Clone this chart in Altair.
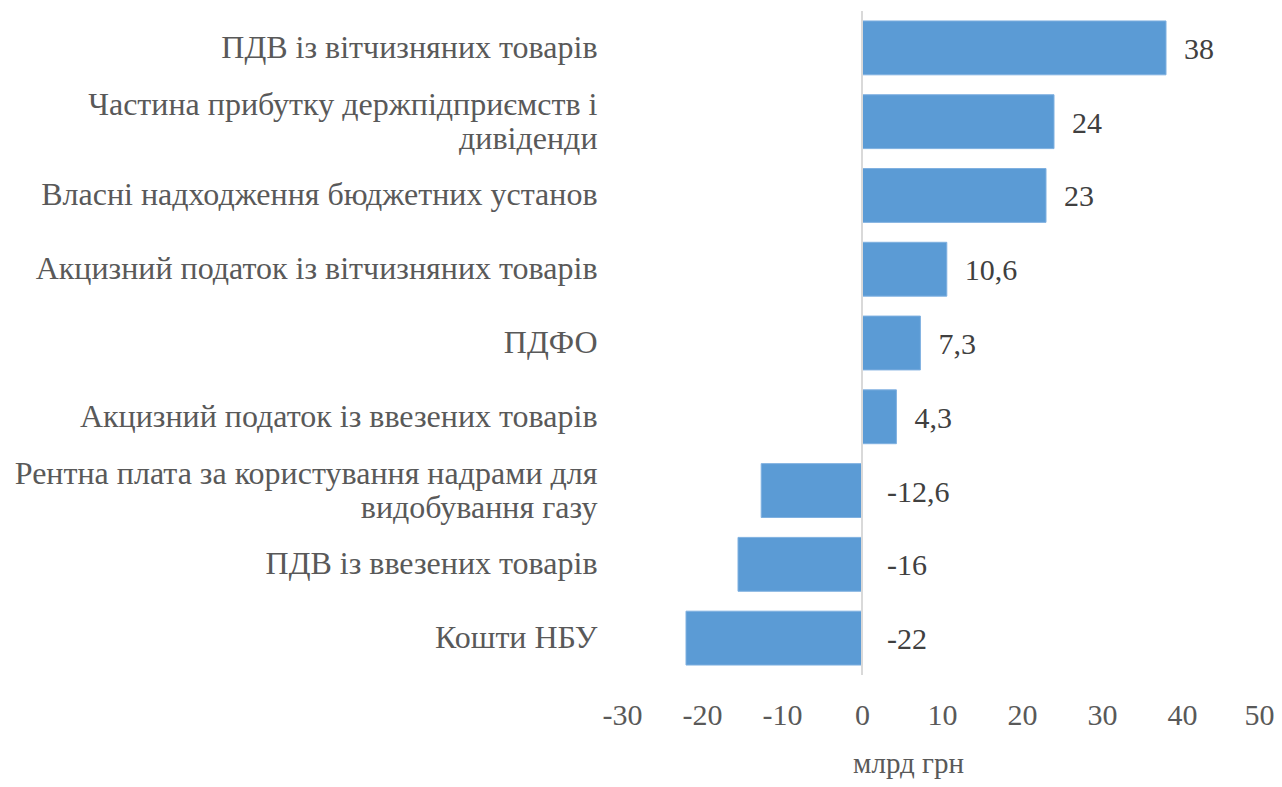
import altair as alt
import pandas as pd

categories = [
    "ПДВ із вітчизняних товарів ",
    "Частина прибутку держпідприємств і\nдивіденди",
    "Власні надходження бюджетних установ",
    "Акцизний податок із вітчизняних товарів",
    "ПДФО",
    "Акцизний податок із ввезених товарів",
    "Рентна плата за користування надрами для\nвидобування газу",
    "ПДВ із ввезених товарів ",
    "Кошти НБУ",
]
values = [38, 24, 23, 10.6, 7.3, 4.3, -12.6, -15.5, -22]
value_labels = ["38", "24", "23", "10,6", "7,3", "4,3", "-12,6", "-16", "-22"]
x_ticks = [-30, -20, -10, 0, 10, 20, 30, 40, 50]

df = pd.DataFrame({"cat": categories, "value": values, "label": value_labels})

FONT = "Liberation Serif"

y_enc = alt.Y(
    "cat:N",
    sort=categories,
    title=None,
    scale=alt.Scale(paddingInner=0.27, paddingOuter=0.135),
    axis=alt.Axis(
        labelFont=FONT,
        labelFontSize=32,
        labelColor="#595959",
        labelPadding=25,
        labelLineHeight=34,
        labelExpr="split(datum.label, '\\n')",
        labelOffset={"condition": {"test": "indexof(datum.label, '\\n') >= 0", "value": -17}, "value": 0},
        labelLimit=700,
        ticks=False,
        domain=False,
        grid=False,
    ),
)

x_scale = alt.Scale(domain=[-30, 50], nice=False, zero=False)

bars = alt.Chart(df).mark_bar(color="#5B9BD5", stroke="#7fb0e0", strokeWidth=1).encode(
    x=alt.X(
        "value:Q",
        scale=x_scale,
        title="млрд грн",
        axis=alt.Axis(
            values=x_ticks,
            labelExpr="'' + datum.value",
            labelFont=FONT,
            labelFontSize=30,
            labelColor="#595959",
            labelBaseline="alphabetic",
            labelPadding=49,
            labelOffset={"condition": {"test": "datum.value == 50", "value": -3}, "value": 0},
            tickSize=0,
            ticks=False,
            domain=False,
            grid=False,
            labelFlush=False,
            titleFont=FONT,
            titleFontSize=29,
            titleFontWeight="normal",
            titleColor="#595959",
            titleX=286,
            titleY=97,
            titleBaseline="alphabetic",
            titleAnchor="middle",
            titleAlign="center",
        ),
    ),
    x2=alt.datum(0),
    y=y_enc,
)

zero_line = alt.Chart(pd.DataFrame({"z": [0]})).mark_rule(color="#D9D9D9", strokeWidth=2).encode(
    x=alt.X("z:Q", scale=x_scale),
    y=alt.value(0),
    y2=alt.value(664),
)

text_base = alt.Chart(df).transform_calculate(lx="max(datum.value, 0)")

texts_pos = text_base.transform_filter("datum.value >= 0").mark_text(
    align="left", baseline="middle", dx=18, dy=2, font=FONT, fontSize=30, color="#404040"
).encode(
    x=alt.X("lx:Q", scale=x_scale),
    y=alt.Y("cat:N", sort=categories),
    text="label:N",
)

texts_neg = text_base.transform_filter("datum.value < 0").mark_text(
    align="left", baseline="middle", dx=25, dy=2, font=FONT, fontSize=30, color="#404040"
).encode(
    x=alt.X("lx:Q", scale=x_scale),
    y=alt.Y("cat:N", sort=categories),
    text="label:N",
)

chart = alt.layer(bars, zero_line, texts_pos, texts_neg).properties(
    width=640,
    height=664,
    background="white",
    autosize=alt.AutoSizeParams(type="none"),
    padding={"left": 614, "top": 3, "right": 12, "bottom": 104},
).configure_view(strokeWidth=0, stroke=None)

chart.save("out.html", embed_options={"renderer": "svg", "actions": False})
